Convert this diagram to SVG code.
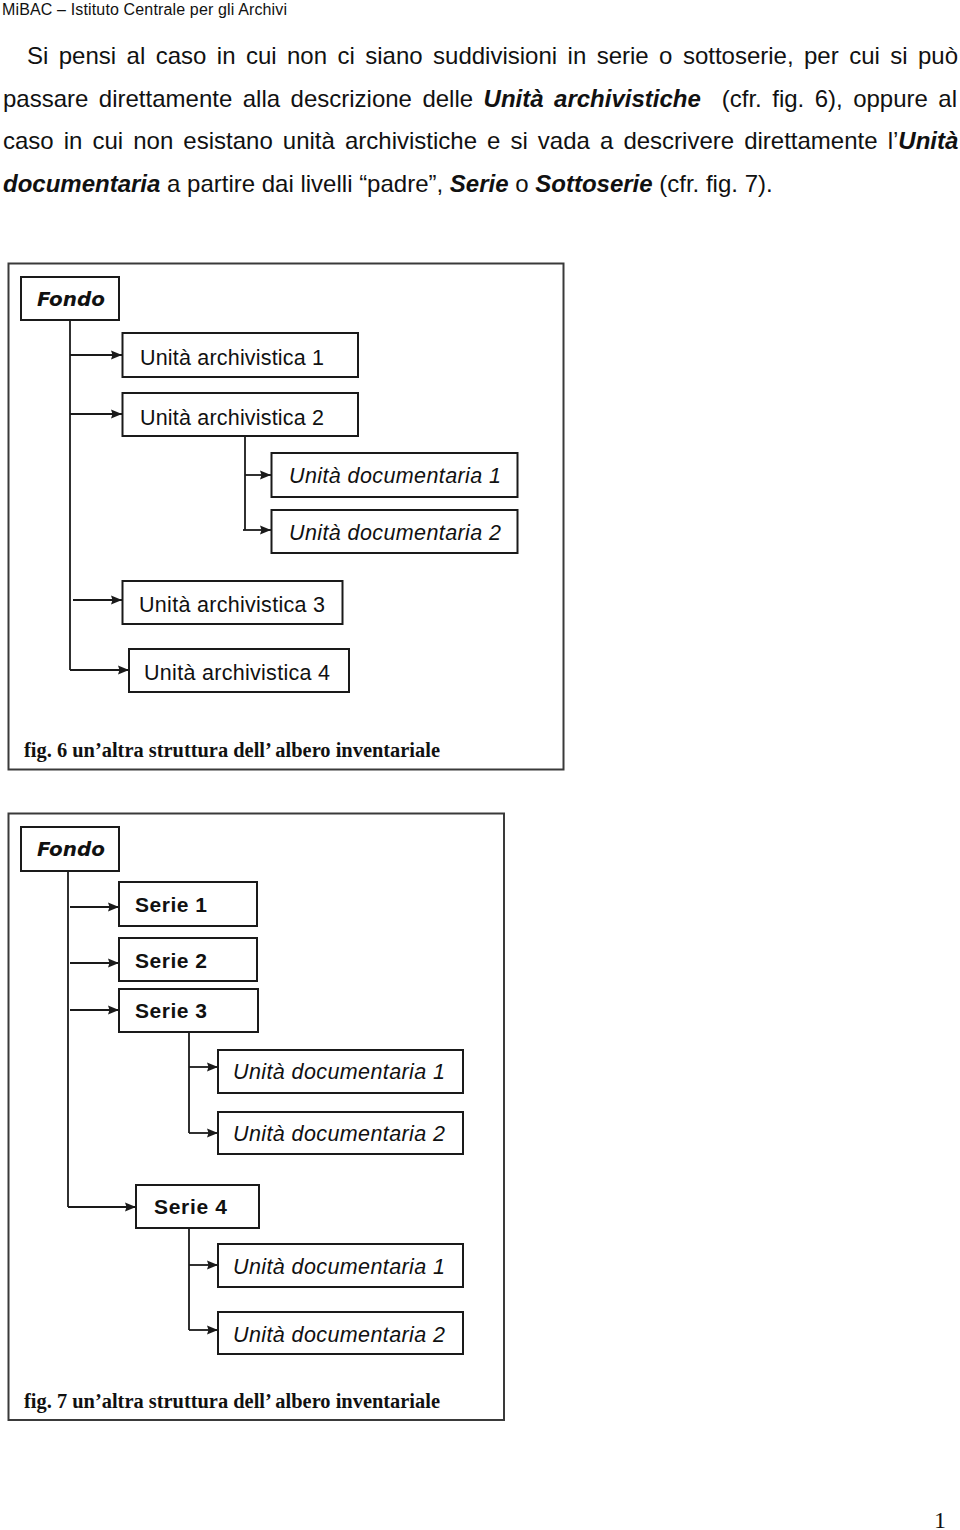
<svg xmlns="http://www.w3.org/2000/svg" width="960" height="1530" viewBox="0 0 960 1530">
<style>
  .page { fill: #ffffff; }
  .hdr { font-family: "Liberation Sans", Arial, sans-serif; font-size: 16px; fill: #111; }
  .para { font-family: "Liberation Sans", Arial, sans-serif; font-size: 24px; fill: #111; }
  .bi { font-weight: bold; font-style: italic; }
  .frame { fill: #ffffff; stroke: #3a3a3a; stroke-width: 2; }
  .box { fill: #ffffff; stroke: #1a1a1a; stroke-width: 2; }
  .lbl { font-family: "Liberation Sans", Arial, sans-serif; font-size: 21.5px; fill: #111; }
  .it { font-style: italic; }
  .fondo { font-family: "DejaVu Sans", Verdana, sans-serif; font-size: 19px; font-weight: bold; font-style: italic; fill: #111; }
  .serie { font-family: "Liberation Sans", Arial, sans-serif; font-size: 21px; font-weight: bold; fill: #111; }
  .cap { font-family: "Liberation Serif", "Times New Roman", serif; font-size: 20px; font-weight: bold; fill: #111; }
  .conn { fill: none; stroke: #1a1a1a; stroke-width: 1.8; }
  .arr { fill: none; stroke: #1a1a1a; stroke-width: 1.8; marker-end: url(#ah); }
  .pnum { font-family: "Liberation Serif", "Times New Roman", serif; font-size: 24px; fill: #111; }
</style>
<defs>
  <marker id="ah" markerUnits="userSpaceOnUse" markerWidth="13" markerHeight="11" refX="11" refY="5" orient="auto">
    <path d="M0,0.5 L11,5 L0,9.5 L1.5,5 Z" fill="#1a1a1a"/>
  </marker>
</defs>
<rect class="page" x="0" y="0" width="960" height="1530"/>

<g id="header">
  <text class="hdr" x="2" y="15" textLength="285" lengthAdjust="spacing">MiBAC – Istituto Centrale per gli Archivi</text>
</g>

<g id="paragraph">
  <text class="para" x="27" y="64" word-spacing="3.76">Si pensi al caso in cui non ci siano suddivisioni in serie o sottoserie, per cui si può</text>
  <text class="para" x="3" y="106.5" word-spacing="3.8" xml:space="preserve">passare direttamente alla descrizione delle <tspan class="bi">Unità archivistiche</tspan>  (cfr. fig. 6), oppure al</text>
  <text class="para" x="3" y="149" word-spacing="3.4">caso in cui non esistano unità archivistiche e si vada a descrivere direttamente l’<tspan class="bi">Unità</tspan></text>
  <text class="para" x="3" y="191.5"><tspan class="bi">documentaria</tspan> a partire dai livelli “padre”, <tspan class="bi">Serie</tspan> o <tspan class="bi">Sottoserie</tspan> (cfr. fig. 7).</text>
</g>

<!-- Figure 6 -->
<g id="fig6-frame">
  <rect class="frame" x="8.5" y="263.5" width="555" height="506"/>
</g>
<g id="fig6-connectors">
  <path class="conn" d="M70,320 V670"/>
  <path class="arr" d="M70,355 H122"/>
  <path class="arr" d="M70,414 H122"/>
  <path class="arr" d="M73,600 H122"/>
  <path class="arr" d="M70,670 H129"/>
  <path class="conn" d="M245,436 V530"/>
  <path class="arr" d="M245,475 H271"/>
  <path class="arr" d="M243,530 H271"/>
</g>
<g id="fig6-fondo">
  <rect class="box" x="21" y="277" width="98" height="43"/>
  <text class="fondo" x="37" y="306" textLength="68" lengthAdjust="spacingAndGlyphs">Fondo</text>
</g>
<g id="fig6-ua1">
  <rect class="box" x="122.5" y="333" width="235.5" height="44"/>
  <text class="lbl" x="140" y="365" textLength="184" lengthAdjust="spacing">Unità archivistica 1</text>
</g>
<g id="fig6-ua2">
  <rect class="box" x="122.5" y="393" width="235.5" height="43"/>
  <text class="lbl" x="140" y="425" textLength="184" lengthAdjust="spacing">Unità archivistica 2</text>
</g>
<g id="fig6-ud1">
  <rect class="box" x="271.5" y="453" width="246" height="44"/>
  <text class="lbl it" x="289" y="483" textLength="212" lengthAdjust="spacing">Unità documentaria 1</text>
</g>
<g id="fig6-ud2">
  <rect class="box" x="271.5" y="510" width="246" height="43"/>
  <text class="lbl it" x="289" y="540" textLength="212" lengthAdjust="spacing">Unità documentaria 2</text>
</g>
<g id="fig6-ua3">
  <rect class="box" x="122.5" y="581" width="220" height="43"/>
  <text class="lbl" x="139" y="612" textLength="186" lengthAdjust="spacing">Unità archivistica 3</text>
</g>
<g id="fig6-ua4">
  <rect class="box" x="129" y="649" width="220" height="43"/>
  <text class="lbl" x="144" y="680" textLength="186" lengthAdjust="spacing">Unità archivistica 4</text>
</g>
<g id="fig6-caption">
  <text class="cap" x="24" y="757" textLength="416" lengthAdjust="spacingAndGlyphs">fig. 6 un’altra struttura dell’ albero inventariale</text>
</g>

<!-- Figure 7 -->
<g id="fig7-frame">
  <rect class="frame" x="8.5" y="813.5" width="495.5" height="606.5"/>
</g>
<g id="fig7-connectors">
  <path class="conn" d="M68,871 V1207"/>
  <path class="arr" d="M68,1207 H136"/>
  <path class="arr" d="M70,907 H119"/>
  <path class="arr" d="M70,963 H119"/>
  <path class="arr" d="M70,1010 H119"/>
  <path class="conn" d="M189,1032 V1133"/>
  <path class="arr" d="M189,1067 H218"/>
  <path class="arr" d="M189,1133 H218"/>
  <path class="conn" d="M189,1228 V1330"/>
  <path class="arr" d="M189,1265 H218"/>
  <path class="arr" d="M189,1330 H218"/>
</g>
<g id="fig7-fondo">
  <rect class="box" x="21" y="827" width="98" height="44"/>
  <text class="fondo" x="37" y="856" textLength="68" lengthAdjust="spacingAndGlyphs">Fondo</text>
</g>
<g id="fig7-serie1">
  <rect class="box" x="119" y="882" width="138" height="44"/>
  <text class="serie" x="135" y="912" textLength="72" lengthAdjust="spacing">Serie 1</text>
</g>
<g id="fig7-serie2">
  <rect class="box" x="119" y="938" width="138" height="43"/>
  <text class="serie" x="135" y="968" textLength="72" lengthAdjust="spacing">Serie 2</text>
</g>
<g id="fig7-serie3">
  <rect class="box" x="119" y="989" width="139" height="43"/>
  <text class="serie" x="135" y="1018" textLength="72" lengthAdjust="spacing">Serie 3</text>
</g>
<g id="fig7-s3-ud1">
  <rect class="box" x="218" y="1050" width="245" height="43"/>
  <text class="lbl it" x="233" y="1079" textLength="212" lengthAdjust="spacing">Unità documentaria 1</text>
</g>
<g id="fig7-s3-ud2">
  <rect class="box" x="218" y="1112" width="245" height="42"/>
  <text class="lbl it" x="233" y="1141" textLength="212" lengthAdjust="spacing">Unità documentaria 2</text>
</g>
<g id="fig7-serie4">
  <rect class="box" x="136" y="1185" width="123" height="43"/>
  <text class="serie" x="154" y="1214" textLength="73" lengthAdjust="spacing">Serie 4</text>
</g>
<g id="fig7-s4-ud1">
  <rect class="box" x="218" y="1244" width="245" height="43"/>
  <text class="lbl it" x="233" y="1274" textLength="212" lengthAdjust="spacing">Unità documentaria 1</text>
</g>
<g id="fig7-s4-ud2">
  <rect class="box" x="218" y="1312" width="245" height="42"/>
  <text class="lbl it" x="233" y="1342" textLength="212" lengthAdjust="spacing">Unità documentaria 2</text>
</g>
<g id="fig7-caption">
  <text class="cap" x="24" y="1408" textLength="416" lengthAdjust="spacingAndGlyphs">fig. 7 un’altra struttura dell’ albero inventariale</text>
</g>

<g id="page-number">
  <text class="pnum" x="934" y="1528">1</text>
</g>
</svg>
